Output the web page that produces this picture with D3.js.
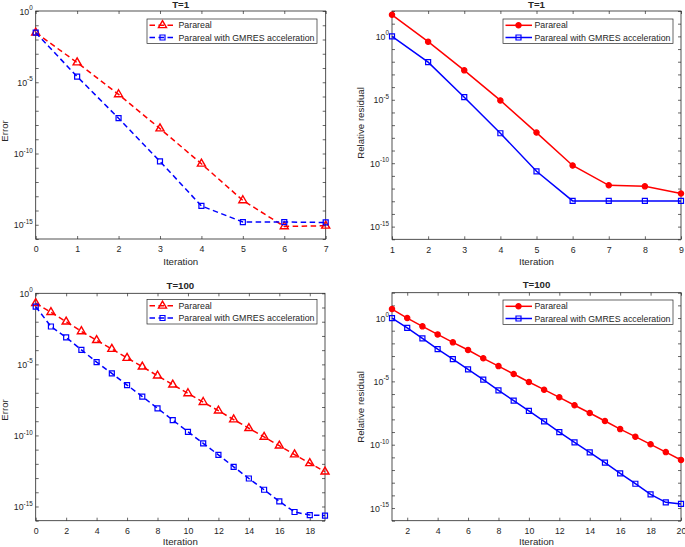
<!DOCTYPE html>
<html><head><meta charset="utf-8">
<script src="https://cdn.jsdelivr.net/npm/d3@7"></script>
<style>
body{margin:0;background:#fff}
text{font-family:"Liberation Sans",Arial,Helvetica,sans-serif;fill:#262626}
</style>
</head><body>
<svg id="chart" width="685" height="547"></svg>
<script>
// ---------- data ----------
const itT1Err = [0,1,2,3,4,5,6,7];
const errT1Parareal = [3.0e-2, 2.4e-4, 1.4e-6, 5.6e-9, 1.9e-11, 5.1e-14, 7.6e-16, 8.5e-16];
const errT1Gmres    = [3.0e-2, 2.5e-5, 3.0e-8, 2.8e-11, 2.1e-14, 1.55e-15, 1.55e-15, 1.45e-15];

const itT1Res = [1,2,3,4,5,6,7,8,9];
const resT1Parareal = [50, 0.38, 2.1e-3, 8.9e-6, 2.6e-8, 6.6e-11, 1.8e-12, 1.5e-12, 4.1e-13];
const resT1Gmres    = [1.0, 9.3e-3, 1.6e-5, 2.3e-8, 2.3e-11, 1.07e-13, 1.07e-13, 1.07e-13, 1.07e-13];

const itT100Err = [0,1,2,3,4,5,6,7,8,9,10,11,12,13,14,15,16,17,18,19];
const errT100Parareal = [2.0e-1, 4.7e-2, 1.0e-2, 2.1e-3, 5.0e-4, 1.2e-4, 2.8e-5, 6.8e-6, 1.6e-6, 3.7e-7,
  9.1e-8, 2.2e-8, 5.5e-9, 1.3e-9, 3.2e-10, 7.8e-11, 1.9e-11, 4.5e-12, 1.1e-12, 2.8e-13];
const errT100Gmres = [1.15e-1, 4.6e-3, 7.8e-4, 1.05e-4, 1.45e-5, 2.3e-6, 3.5e-7, 5.4e-8, 8.1e-9, 1.2e-9,
  1.8e-10, 2.8e-11, 4.3e-12, 6.2e-13, 9.3e-14, 1.5e-14, 2.3e-15, 4.1e-16, 2.5e-16, 2.3e-16];

const itT100Res = [1,2,3,4,5,6,7,8,9,10,11,12,13,14,15,16,17,18,19,20];
const resT100Parareal = [5.1, 1.0, 2.2e-1, 5.1e-2, 1.2e-2, 3.0e-3, 6.6e-4, 1.6e-4, 3.8e-5, 8.9e-6,
  2.2e-6, 5.5e-7, 1.3e-7, 3.2e-8, 7.4e-9, 1.7e-9, 4.3e-10, 1.07e-10, 2.6e-11, 6.2e-12];
const resT100Gmres = [1.0, 1.7e-1, 2.5e-2, 3.5e-3, 5.8e-4, 8.9e-5, 1.35e-5, 1.95e-6, 3.0e-7, 4.6e-8,
  6.9e-9, 1.0e-9, 1.5e-10, 2.5e-11, 3.8e-12, 5.5e-13, 8.3e-14, 1.2e-14, 2.8e-15, 2.1e-15];

const seriesNames = ["Parareal", "Parareal with GMRES acceleration"];
const titles = ["T=1", "T=1", "T=100", "T=100"];
const yLabels = ["Error", "Relative residual", "Error", "Relative residual"];
const xLabel = "Iteration";
const xTicksT1Err = [0,1,2,3,4,5,6,7];
const xTicksT1Res = [1,2,3,4,5,6,7,8,9];
const xTicksT100Err = [0,2,4,6,8,10,12,14,16,18];
const xTicksT100Res = [2,4,6,8,10,12,14,16,18,20];
const yLabelExps = [0,-5,-10,-15];

// ---------- layout ----------
const RED = "#ff0000", BLUE = "#0000ff", AX = "#262626";
const svg = d3.select("#chart");

const panels = [
  {L:35.7, R:325.7, T:11, B:239, xd:[0,7], yd:[-16,0], xt:xTicksT1Err, x:itT1Err, s:[errT1Parareal, errT1Gmres],
   dashed:true, title:titles[0], yl:yLabels[0], ylY:131, leg:[147,19], tY:8, xlY:265},
  {L:392, R:681, T:11, B:239.3, xd:[1,9], yd:[-16,2], xt:xTicksT1Res, x:itT1Res, s:[resT1Parareal, resT1Gmres],
   dashed:false, title:titles[1], yl:yLabels[1], ylY:123, leg:[503,19], tY:8, xlY:265},
  {L:35.7, R:325, T:293.3, B:520.7, xd:[0,19], yd:[-16,0], xt:xTicksT100Err, x:itT100Err, s:[errT100Parareal, errT100Gmres],
   dashed:true, title:titles[2], yl:yLabels[2], ylY:410, leg:[147,299.5], tY:288.8, xlY:544.5},
  {L:392, R:681, T:292.7, B:520.7, xd:[1,20], yd:[-16,2], xt:xTicksT100Res, x:itT100Res, s:[resT100Parareal, resT100Gmres],
   dashed:false, title:titles[3], yl:yLabels[3], ylY:407, leg:[503,300], tY:288.2, xlY:544.5}
];

function markerPath(kind){
  if (kind === "tri") return d3.symbol(d3.symbolTriangle, 28)();
  if (kind === "sq") return d3.symbol(d3.symbolSquare, 25)();
  return d3.symbol(d3.symbolCircle, 22)();
}

function expLabel(sel, e){
  sel.text(null);
  sel.append("tspan").text("10");
  sel.append("tspan").attr("dy", -4.5).attr("font-size", 6.3).text(String(e));
}

panels.forEach(p => {
  const g = svg.append("g");
  const x = d3.scaleLinear().domain(p.xd).range([p.L, p.R]);
  const y = d3.scaleLog().domain([Math.pow(10,p.yd[0]), Math.pow(10,p.yd[1])]).range([p.B, p.T]);
  const decades = d3.range(p.yd[0], p.yd[1]+1).map(e => Math.pow(10,e));

  // axes (ticks inward)
  const gb = g.append("g").attr("transform", `translate(0,${p.B})`)
    .call(d3.axisBottom(x).tickValues(p.xt).tickSizeInner(-3).tickSizeOuter(0).tickPadding(7).tickFormat(d3.format("d")));
  const gt = g.append("g").attr("transform", `translate(0,${p.T})`)
    .call(d3.axisTop(x).tickValues(p.xt).tickSizeInner(-3).tickSizeOuter(0).tickFormat(""));
  const gl = g.append("g").attr("transform", `translate(${p.L},0)`)
    .call(d3.axisLeft(y).tickValues(decades).tickSizeInner(-3).tickSizeOuter(0).tickPadding(3).tickFormat(""));
  const gr = g.append("g").attr("transform", `translate(${p.R},0)`)
    .call(d3.axisRight(y).tickValues(decades).tickSizeInner(-3).tickSizeOuter(0).tickFormat(""));
  [gb,gt,gl,gr].forEach(a => {
    a.select(".domain").remove();
    a.selectAll("line").attr("stroke", AX).attr("stroke-width", 0.7);
    a.selectAll("text").attr("fill", AX).attr("font-size", 8.8).attr("font-family", null);
  });
  gl.selectAll(".tick text").each(function(d){
    const e = Math.round(Math.log10(d));
    const t = d3.select(this);
    if (yLabelExps.includes(e)) { t.attr("dy","0.35em"); expLabel(t, e); }
    else t.remove();
  });

  // box
  g.append("rect").attr("x", p.L).attr("y", p.T).attr("width", p.R-p.L).attr("height", p.B-p.T)
    .attr("fill","none").attr("stroke", AX).attr("stroke-width", 0.8);

  // series
  const styles = [
    {c:RED, m: p.dashed ? "tri" : "circ", fill: p.dashed ? "none" : RED},
    {c:BLUE, m:"sq", fill:"none"}
  ];
  const line = d3.line().x(d => x(d[0])).y(d => y(d[1]));
  p.s.forEach((vals, i) => {
    const st = styles[i];
    const pts = p.x.map((xv, k) => [xv, vals[k]]);
    g.append("path").datum(pts).attr("d", line).attr("fill","none").attr("stroke", st.c)
      .attr("stroke-width", 1.5).attr("stroke-dasharray", p.dashed ? "5.5,3.5" : null);
    g.selectAll(null).data(pts).enter().append("path")
      .attr("d", markerPath(st.m))
      .attr("transform", d => `translate(${x(d[0])},${y(d[1])})`)
      .attr("fill", st.fill).attr("stroke", st.c).attr("stroke-width", st.m === "tri" ? 1.4 : 1.2);
  });

  // title, labels
  g.append("text").attr("x", (p.L+p.R)/2).attr("y", p.tY).attr("text-anchor","middle")
    .attr("font-weight","bold").attr("font-size", 9.7).text(p.title);
  g.append("text").attr("x", (p.L+p.R)/2).attr("y", p.xlY).attr("text-anchor","middle")
    .attr("font-size", 9.7).text(xLabel);
  g.append("text").attr("transform", `translate(${p.L-31},${p.ylY}) rotate(-90)`)
    .attr("dy","0.35em").attr("text-anchor","middle").attr("font-size", 9.7).text(p.yl);

  // legend
  const lg = g.append("g").attr("transform", `translate(${p.leg[0]},${p.leg[1]})`);
  lg.append("rect").attr("width", 170).attr("height", 24.5).attr("fill","#fff")
    .attr("stroke", AX).attr("stroke-width", 0.7);
  seriesNames.forEach((nm, i) => {
    const st = styles[i];
    const yy = 6.3 + i*12.2;
    lg.append("line").attr("x1", 2.5).attr("x2", 29).attr("y1", yy).attr("y2", yy)
      .attr("stroke", st.c).attr("stroke-width", 1.5).attr("stroke-dasharray", p.dashed ? "5.5,3.5" : null);
    lg.append("path").attr("d", markerPath(st.m)).attr("transform", `translate(15.5,${yy})`)
      .attr("fill", st.fill).attr("stroke", st.c).attr("stroke-width", st.m === "tri" ? 1.4 : 1.2);
    lg.append("text").attr("x", 31.5).attr("y", yy).attr("dy","0.35em").attr("font-size", 8.8).text(nm);
  });
});
</script>
</body></html>
